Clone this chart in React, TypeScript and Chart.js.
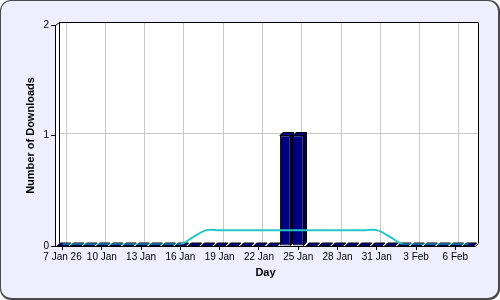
import React, { useEffect, useRef } from 'react';
import { Chart, registerables } from 'chart.js';

Chart.register(...registerables);

const categories = [
  '7 Jan', '8 Jan', '9 Jan', '10 Jan', '11 Jan', '12 Jan', '13 Jan', '14 Jan',
  '15 Jan', '16 Jan', '17 Jan', '18 Jan', '19 Jan', '20 Jan', '21 Jan', '22 Jan',
  '23 Jan', '24 Jan', '25 Jan', '26 Jan', '27 Jan', '28 Jan', '29 Jan', '30 Jan',
  '31 Jan', '1 Feb', '2 Feb', '3 Feb', '4 Feb', '5 Feb', '6 Feb', '7 Feb',
];

const tickLabels = [
  '7 Jan 26', '10 Jan', '13 Jan', '16 Jan', '19 Jan', '22 Jan',
  '25 Jan', '28 Jan', '31 Jan', '3 Feb', '6 Feb',
];

const downloads = [
  0, 0, 0, 0, 0, 0, 0, 0,
  0, 0, 0, 0, 0, 0, 0, 0,
  0, 1, 1, 0, 0, 0, 0, 0,
  0, 0, 0, 0, 0, 0, 0, 0,
];

const movingAverage = [
  0, 0, 0, 0, 0, 0, 0, 0,
  0, 0, 0.07, 0.13, 0.13, 0.13, 0.13, 0.13,
  0.13, 0.13, 0.13, 0.13, 0.13, 0.13, 0.13, 0.13,
  0.13, 0.07, 0, 0, 0, 0, 0, 0,
];

const yTicks = [0, 1, 2];

const DX = 3;
const DY = -3;
const FONT = '"Liberation Sans", Arial, Helvetica, sans-serif';

function roundRectPath(ctx: CanvasRenderingContext2D, x: number, y: number, w: number, h: number, r: number) {
  ctx.beginPath();
  ctx.moveTo(x + r, y);
  ctx.lineTo(x + w - r, y);
  ctx.arcTo(x + w, y, x + w, y + r, r);
  ctx.lineTo(x + w, y + h - r);
  ctx.arcTo(x + w, y + h, x + w - r, y + h, r);
  ctx.lineTo(x + r, y + h);
  ctx.arcTo(x, y + h, x, y + h - r, r);
  ctx.lineTo(x, y + r);
  ctx.arcTo(x, y, x + r, y, r);
  ctx.closePath();
}

const chart3dPlugin = {
  id: 'chart3d',
  beforeDraw(chart: any) {
    const ctx: CanvasRenderingContext2D = chart.ctx;
    const { left, right, top, bottom } = chart.chartArea;
    const xs = chart.scales.x;
    const ys = chart.scales.y;
    ctx.save();
    // outer frame
    roundRectPath(ctx, 0, 0, 500, 300, 11);
    ctx.fillStyle = '#4a4a4a';
    ctx.fill();
    roundRectPath(ctx, 1, 1, 497, 297, 10);
    ctx.fillStyle = '#eeeeff';
    ctx.fill();

    // plot region (white)
    ctx.beginPath();
    ctx.moveTo(left, bottom);
    ctx.lineTo(left, top);
    ctx.lineTo(left + DX, top + DY);
    ctx.lineTo(right + DX, top + DY);
    ctx.lineTo(right + DX, bottom + DY);
    ctx.lineTo(right, bottom);
    ctx.closePath();
    ctx.fillStyle = '#ffffff';
    ctx.fill();

    // back wall grid
    ctx.lineWidth = 1;
    ctx.strokeStyle = '#c8c8c8';
    for (let i = 0; i < categories.length; i += 3) {
      const px = Math.round(xs.getPixelForValue(i) + DX) + 0.5;
      ctx.beginPath();
      ctx.moveTo(px, top + DY);
      ctx.lineTo(px, bottom + DY);
      ctx.stroke();
    }
    for (const v of yTicks) {
      if (v === 0 || v === yTicks[yTicks.length - 1]) continue;
      const py = Math.round(ys.getPixelForValue(v) + DY) + 0.5;
      ctx.beginPath();
      ctx.moveTo(left + DX, py);
      ctx.lineTo(right + DX, py);
      ctx.stroke();
    }

    // back wall border
    ctx.strokeStyle = '#000000';
    ctx.beginPath();
    ctx.moveTo(left + DX + 0.5, bottom + DY);
    ctx.lineTo(left + DX + 0.5, top + DY + 0.5);
    ctx.lineTo(right + DX + 0.5, top + DY + 0.5);
    ctx.lineTo(right + DX + 0.5, bottom + DY);
    ctx.stroke();

    // front left edge + diagonal
    ctx.beginPath();
    ctx.moveTo(left - 0.5, bottom);
    ctx.lineTo(left - 0.5, top + 0.5);
    ctx.lineTo(left + DX + 0.5, top + DY + 0.5);
    ctx.stroke();

    // front bottom edge + diagonal
    ctx.beginPath();
    ctx.moveTo(left - 0.5, bottom + 0.5);
    ctx.lineTo(right + 0.5, bottom + 0.5);
    ctx.lineTo(right + DX + 0.5, bottom + DY + 0.5);
    ctx.stroke();
    ctx.restore();
  },
  beforeDatasetDraw(chart: any, args: any) {
    if (args.meta.type === 'line') {
      chart.ctx.save();
      chart.ctx.translate(0, -1.5);
    }
  },
  afterDatasetDraw(chart: any, args: any) {
    const ctx: CanvasRenderingContext2D = chart.ctx;
    if (args.meta.type === 'line') {
      ctx.restore();
      return;
    }
    if (args.meta.type !== 'bar') return;
    ctx.save();
    ctx.lineWidth = 1;
    ctx.strokeStyle = '#000000';
    for (const el of args.meta.data) {
      const { x, y, base, width } = el.getProps(['x', 'y', 'base', 'width'], true);
      const x0 = x - width / 2;
      const x1 = x + width / 2;
      // top face
      ctx.beginPath();
      ctx.moveTo(x0, y);
      ctx.lineTo(x0 + DX, y + DY);
      ctx.lineTo(x1 + DX, y + DY);
      ctx.lineTo(x1, y);
      ctx.closePath();
      ctx.fillStyle = '#000088';
      ctx.fill();
      ctx.stroke();
      // side face
      if (base - y > 0.5) {
        ctx.beginPath();
        ctx.moveTo(x1, y);
        ctx.lineTo(x1 + DX, y + DY);
        ctx.lineTo(x1 + DX, base + DY);
        ctx.lineTo(x1, base);
        ctx.closePath();
        ctx.fillStyle = '#00004a';
        ctx.fill();
        ctx.stroke();
      }
    }
    ctx.restore();
  },
};

export default function App() {
  const canvasRef = useRef<HTMLCanvasElement | null>(null);

  useEffect(() => {
    const canvas = canvasRef.current;
    if (!canvas) return;
    const chart = new Chart(canvas, {
      type: 'bar',
      data: {
        labels: categories,
        datasets: [
          {
            type: 'line',
            label: 'Moving average',
            data: movingAverage,
            borderColor: '#22c8c8',
            borderWidth: 2,
            pointRadius: 0,
            tension: 0.35,
            fill: false,
            order: 0,
          } as any,
          {
            type: 'bar',
            label: 'Downloads',
            data: downloads,
            backgroundColor: '#000080',
            borderColor: '#000000',
            borderWidth: 1,
            borderSkipped: false,
            categoryPercentage: 1,
            barPercentage: 0.8,
            order: 1,
          },
        ],
      },
      options: {
        animation: false,
        responsive: false,
        devicePixelRatio: 1,
        events: [],
        layout: { padding: { left: 0, top: 25, right: 25, bottom: 0 } },
        plugins: {
          legend: { display: false },
          tooltip: { enabled: false },
        },
        scales: {
          x: {
            type: 'category',
            offset: true,
            grid: {
              display: true,
              drawOnChartArea: false,
              drawTicks: true,
              tickLength: 4,
              offset: false,
              color: (c: any) => (c.index % 3 === 0 ? '#000000' : 'rgba(0,0,0,0)'),
            },
            border: { display: false },
            ticks: {
              autoSkip: false,
              maxRotation: 0,
              minRotation: 0,
              padding: 1,
              color: '#000000',
              font: { family: FONT, size: 10 },
              callback: (_v: any, i: number) => (i % 3 === 0 ? tickLabels[i / 3] : ''),
            },
            title: {
              display: true,
              text: 'Day',
              color: '#000000',
              font: { family: FONT, size: 11, weight: 'bold' },
              padding: { top: 0, bottom: 20 },
            },
            afterFit: (s: any) => {
              s.height = 54;
            },
          },
          y: {
            min: 0,
            max: 2,
            grid: {
              display: true,
              drawOnChartArea: false,
              drawTicks: true,
              tickLength: 5,
              color: '#000000',
            },
            border: { display: false },
            ticks: {
              stepSize: 1,
              padding: 2,
              color: '#000000',
              font: { family: FONT, size: 10 },
            },
            title: {
              display: true,
              text: 'Number of Downloads',
              color: '#000000',
              font: { family: FONT, size: 11, weight: 'bold' },
              padding: { top: 24, bottom: 0 },
            },
            afterFit: (s: any) => {
              s.width = 56;
            },
          },
        },
      },
      plugins: [chart3dPlugin],
    });
    return () => chart.destroy();
  }, []);

  return (
    <div style={{ position: 'fixed', left: 0, top: 0, width: 500, height: 300 }}>
      <canvas ref={canvasRef} width={500} height={300} style={{ display: 'block', width: 500, height: 300 }} />
    </div>
  );
}
